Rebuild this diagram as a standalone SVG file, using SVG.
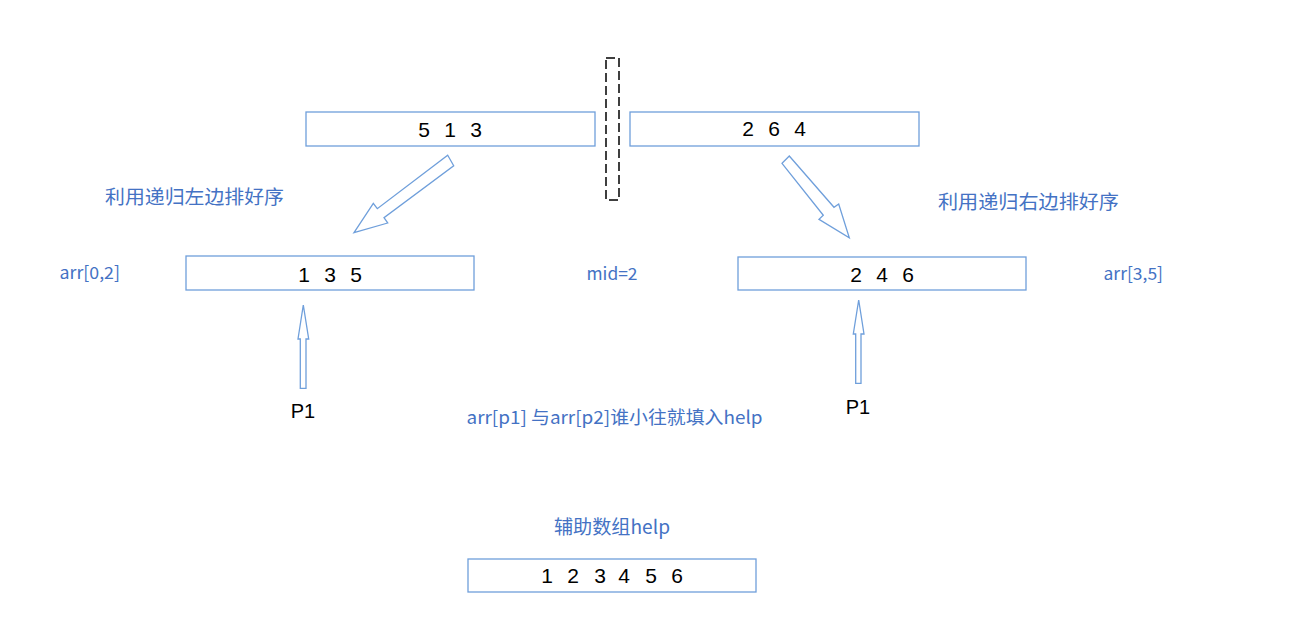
<svg xmlns="http://www.w3.org/2000/svg" width="1292" height="635" viewBox="0 0 1292 635">
<style>
.box{fill:#fff;stroke:#6f9fdb;stroke-width:1.3}
.arr{fill:#fff;stroke:#6f9fdb;stroke-width:1.3;stroke-linejoin:miter}
.num{font-family:"Liberation Sans",Arial,sans-serif;font-size:21px;fill:#000;text-anchor:middle}
.lbl{font-family:"Liberation Sans","Noto Sans CJK SC",sans-serif;font-size:20px;fill:#000;text-anchor:middle}
.blue{font-family:"Noto Sans CJK SC","Noto Sans",sans-serif;fill:#4472c4}
</style>
<rect width="1292" height="635" fill="#fff"/>
<g id="divider">
<rect x="606" y="58" width="13" height="142" fill="none" stroke="#000" stroke-width="1.5" stroke-dasharray="9 4"/>
</g>
<g id="box-513">
<rect class="box" x="306" y="112" width="289" height="34"/>
<text class="num" x="424 437 450 463 476" y="137">5 1 3</text>
</g>
<g id="box-264">
<rect class="box" x="630" y="112" width="289" height="34"/>
<text class="num" x="748 761 774 787 800" y="136">2 6 4</text>
</g>
<g id="box-135">
<rect class="box" x="186" y="256" width="288" height="34"/>
<text class="num" x="304 317 330 343 356" y="282">1 3 5</text>
</g>
<g id="box-246">
<rect class="box" x="738" y="257" width="288" height="33"/>
<text class="num" x="856 869 882 895 908" y="282">2 4 6</text>
</g>
<g id="box-help">
<rect class="box" x="468" y="559" width="288" height="33"/>
<text class="num" x="547 560 573 586 600 612 624 637 651 664 677" y="583">1 2 3 4 5 6</text>
</g>
<g id="connectors">
<polygon class="arr" points="447.7,155.3 453.7,165.7 384,217.7 387.7,223 354,232.7 373.3,203.3 377.3,208.7"/>
<polygon class="arr" points="789.3,156 834,207.3 838.7,204 849.3,237.7 819,219.3 823.3,215.3 782,163.3"/>
<polygon class="arr" points="303.3,305 308.7,339 306,339 306,388.3 300.3,388.3 300.3,339 298,339"/>
<polygon class="arr" points="858.7,300 864,334 861,334 861,383.3 855.7,383.3 855.7,334 853.3,334"/>
</g>
<g id="label-p1-left"><text class="lbl" x="303" y="418">P1</text></g>
<g id="label-p1-right"><text class="lbl" x="858" y="414">P1</text></g>
<g id="label-left-sort"><text class="blue" x="105" y="204" font-size="19" textLength="179" lengthAdjust="spacingAndGlyphs">利用递归左边排好序</text></g>
<g id="label-right-sort"><text class="blue" x="938" y="209" font-size="19" textLength="181" lengthAdjust="spacingAndGlyphs">利用递归右边排好序</text></g>
<g id="label-arr02"><text class="blue" x="59.5" y="279" font-size="17" textLength="60.5" lengthAdjust="spacingAndGlyphs">arr[0,2]</text></g>
<g id="label-mid"><text class="blue" x="586.5" y="280" font-size="17" textLength="51" lengthAdjust="spacingAndGlyphs">mid=2</text></g>
<g id="label-arr35"><text class="blue" x="1103.5" y="280" font-size="17" textLength="59.5" lengthAdjust="spacingAndGlyphs">arr[3,5]</text></g>
<g id="label-compare"><text class="blue" x="466.5" y="424" font-size="18" textLength="296" lengthAdjust="spacingAndGlyphs">arr[p1] 与arr[p2]谁小往就填入help</text></g>
<g id="label-help"><text class="blue" x="554" y="534" font-size="19" textLength="116" lengthAdjust="spacingAndGlyphs">辅助数组help</text></g>
</svg>
